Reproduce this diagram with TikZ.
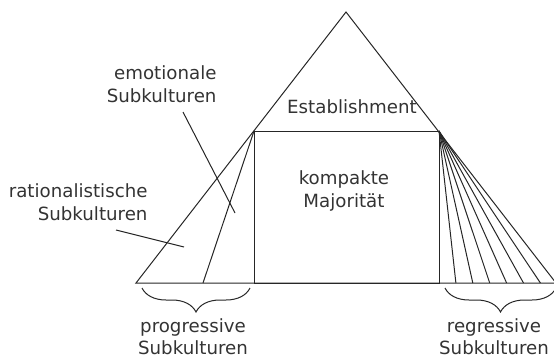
\documentclass[tikz,border=0pt]{standalone}
\usepackage{fontspec}
\setmainfont{DejaVu Sans}
\usetikzlibrary{decorations.pathreplacing}

\tikzset{
	txt/.style={font=\fontsize{18.2}{22.5}\selectfont, text=black!80, inner sep=0pt},
	pointer/.style={black!85, line width=1pt},
	subbrace/.style={decorate, decoration={brace, mirror, amplitude=24pt}, black!85, line width=1pt}
}

\begin{document}
\begin{tikzpicture}[x=1pt, y=-1pt, line width=1pt]
	\useasboundingbox (0,0) rectangle (554,359);

	% pyramid and the box of the majority
	\coordinate (apex) at (346,12);
	\coordinate (bl) at (136,283);
	\coordinate (br) at (556,283);
	\coordinate (tl) at (254,131);
	\coordinate (tr) at (439,131);
	\draw[black!85] (bl) -- (apex) -- (br) -- cycle;
	\draw[black!85] (tl) rectangle (tr |- bl);

	% left side: two subcultures
	\draw[black!85] (tl) -- (203,283);

	% right side: fan of regressive subcultures
	\foreach \i in {1,...,6}
		\draw[black!85] (tr) -- (439+16.9*\i,283);

	\node[txt] (estab) at (352,107) {Establishment};
	\node[txt, align=center] (majority) at (344,191) {kompakte\\Majorität};

	\node[txt, align=right, anchor=south east] (emo) at (217,103) {emotionale\\Subkulturen};
	\node[txt, align=right, anchor=south east] (rat) at (148,221) {rationalistische\\Subkulturen};
	\coordinate (emoTip) at (235,213);
	\coordinate (ratTip) at (184,247);
	\draw[pointer] ([xshift=-34pt, yshift=-9pt]emo.south east) -- (emoTip);
	\draw[pointer] ([xshift=-32pt, yshift=-9pt]rat.south east) -- (ratTip);

	% braces below the base
	\draw[subbrace] (142,288) -- (250,288);
	\draw[subbrace] (445,288) -- (556,288);
	\node[txt, align=center, anchor=north] (prog) at (193,318) {progressive\\Subkulturen};
	\node[txt, align=center, anchor=north] (regr) at (494,318) {regressive\\Subkulturen};
\end{tikzpicture}
\end{document}
